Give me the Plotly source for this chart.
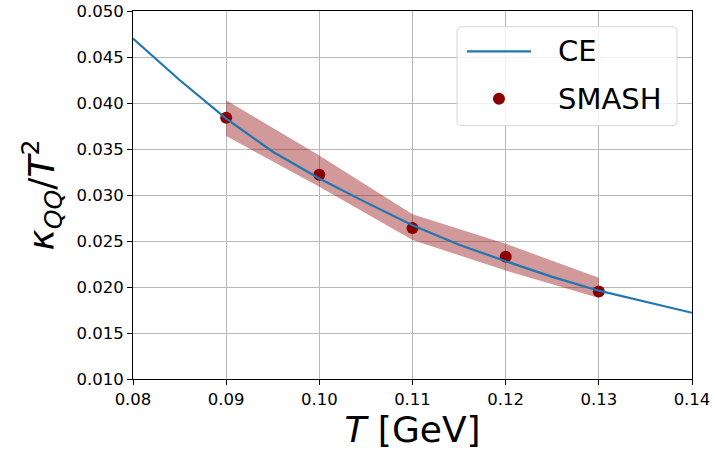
import plotly.graph_objects as go

# CE curve (temperature in GeV, kappa_QQ / T^2)
ce_T = [0.080, 0.085, 0.090, 0.095, 0.100, 0.105, 0.110, 0.115, 0.120, 0.125, 0.130, 0.135, 0.140]
ce_k = [0.0470, 0.0425, 0.0383, 0.0347, 0.0318, 0.0292, 0.0267, 0.0246, 0.0228, 0.0211, 0.0196, 0.0184, 0.0172]

# SMASH points with uncertainty band
smash_T = [0.09, 0.10, 0.11, 0.12, 0.13]
smash_k = [0.0384, 0.0322, 0.0264, 0.0233, 0.0195]
smash_lo = [0.0364, 0.0309, 0.0251, 0.0218, 0.0188]
smash_hi = [0.0403, 0.0343, 0.0279, 0.0247, 0.0210]

x_ticks = [0.08, 0.09, 0.10, 0.11, 0.12, 0.13, 0.14]
y_ticks = [0.010, 0.015, 0.020, 0.025, 0.030, 0.035, 0.040, 0.045, 0.050]

BLUE = "#1f77b4"
DARKRED = "#8b0000"
BAND = "rgba(139,0,0,0.4)"
FONT = "DejaVu Sans"

fig = go.Figure()

# uncertainty band
fig.add_trace(go.Scatter(x=smash_T, y=smash_lo, mode="lines", line=dict(width=0),
                         hoverinfo="skip", showlegend=False))
fig.add_trace(go.Scatter(x=smash_T, y=smash_hi, mode="lines", line=dict(width=0),
                         fill="tonexty", fillcolor=BAND, hoverinfo="skip", showlegend=False))

# SMASH points
fig.add_trace(go.Scatter(x=smash_T, y=smash_k, mode="markers", name="SMASH",
                         marker=dict(color=DARKRED, size=12, line=dict(width=0)),
                         showlegend=False))

# CE line
fig.add_trace(go.Scatter(x=ce_T, y=ce_k, mode="lines", name="CE",
                         line=dict(color=BLUE, width=2.2), showlegend=False))

axis_common = dict(
    showline=True, linecolor="black", linewidth=1.1, mirror=True,
    showgrid=True, gridcolor="#b8b8b8", gridwidth=1,
    ticks="outside", ticklen=5, tickwidth=1.1, tickcolor="black",
    tickfont=dict(family=FONT, size=16.5, color="black"),
    zeroline=False, automargin=False,
)

fig.update_xaxes(range=[0.08, 0.14], tickvals=x_ticks,
                 ticktext=[f"{v:.2f}" for v in x_ticks],
                 title=dict(text="<i>T</i> [GeV]", font=dict(family=FONT, size=36, color="black"),
                            standoff=8),
                 **axis_common)
fig.update_yaxes(range=[0.010, 0.050], tickvals=y_ticks,
                 ticktext=[f"{v:.3f}" for v in y_ticks],
                 title=dict(text="<i>κ</i><sub><i>QQ</i></sub>/<i>T</i><sup>2</sup>",
                            font=dict(family=FONT, size=36, color="black"),
                            standoff=10),
                 **axis_common)

# legend box (paper coordinates), drawn as a rounded rectangle
x0, x1, y0, y1 = 0.5796, 0.9732, 0.6883, 0.9573
rx, ry = 0.009, 0.0136
path = (f"M {x0+rx},{y0} L {x1-rx},{y0} Q {x1},{y0} {x1},{y0+ry} "
        f"L {x1},{y1-ry} Q {x1},{y1} {x1-rx},{y1} L {x0+rx},{y1} "
        f"Q {x0},{y1} {x0},{y1-ry} L {x0},{y0+ry} Q {x0},{y0} {x0+rx},{y0} Z")
shapes = [
    dict(type="path", path=path, xref="paper", yref="paper", layer="above",
         fillcolor="rgba(255,255,255,0.8)", line=dict(color="#d6d6d6", width=1)),
    dict(type="line", xref="paper", yref="paper", x0=0.5975, x1=0.712, y0=0.8902, y1=0.8902,
         layer="above", line=dict(color=BLUE, width=2.2)),
    dict(type="circle", xref="paper", yref="paper", layer="above",
         x0=0.6547 - 6 / 559, x1=0.6547 + 6 / 559, y0=0.7617 - 6 / 368, y1=0.7617 + 6 / 368,
         fillcolor=DARKRED, line=dict(width=0)),
]
annotations = [
    dict(text="CE", xref="paper", yref="paper", x=0.7567, y=0.8902, xanchor="left",
         yanchor="middle", showarrow=False, font=dict(family=FONT, size=29, color="black")),
    dict(text="SMASH", xref="paper", yref="paper", x=0.7567, y=0.7617, xanchor="left",
         yanchor="middle", showarrow=False, font=dict(family=FONT, size=29, color="black")),
]

fig.update_layout(
    width=715, height=456,
    margin=dict(l=133, r=23, t=11, b=77),
    plot_bgcolor="white", paper_bgcolor="white",
    font=dict(family=FONT, color="black"),
    shapes=shapes, annotations=annotations,
    showlegend=False,
)

fig.write_html("out.html")
